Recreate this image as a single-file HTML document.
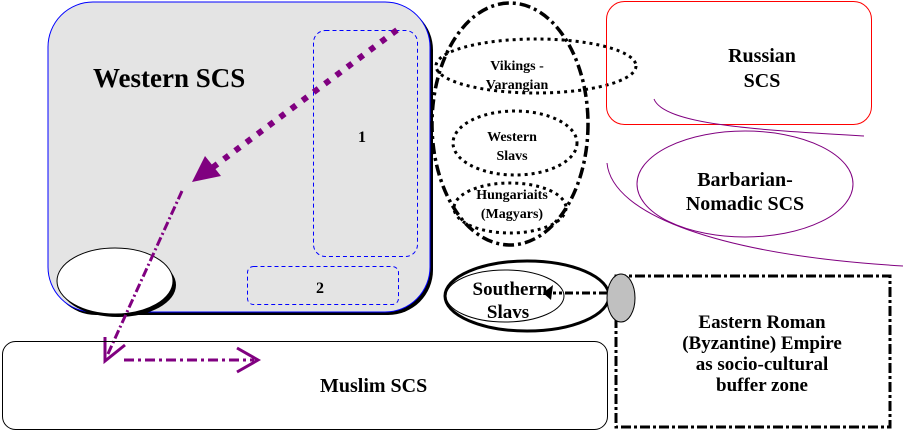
<!DOCTYPE html>
<html><head><meta charset="utf-8"><style>
html,body{margin:0;padding:0;background:#fff;width:903px;height:431px;overflow:hidden}
text{font-family:"Liberation Serif",serif;font-weight:bold;fill:#000}
</style></head><body>
<svg width="903" height="431" viewBox="0 0 903 431" xmlns="http://www.w3.org/2000/svg">
<rect x="51" y="5" width="382" height="310" rx="45" fill="#000"/>
<rect x="48" y="2" width="382" height="310" rx="45" fill="#e4e4e4" stroke="#0000ff" stroke-width="1"/>
<text x="93" y="87" font-size="27">Western SCS</text>
<rect x="313.5" y="30.5" width="104" height="226" rx="12" fill="none" stroke="#0000ff" stroke-dasharray="4,3"/>
<text x="358" y="142" font-size="16">1</text>
<rect x="247.5" y="266.5" width="151" height="38" rx="6" fill="none" stroke="#0000ff" stroke-dasharray="4,3"/>
<text x="316" y="293" font-size="16">2</text>
<ellipse cx="118" cy="285" rx="58" ry="32" fill="#000"/>
<ellipse cx="115" cy="281" rx="58" ry="33" fill="#fff" stroke="#000" stroke-width="1"/>
<line x1="397" y1="30" x2="212" y2="168" stroke="#800080" stroke-width="6" stroke-dasharray="6,8"/>
<polygon points="192,182 205,156 221,176" fill="#800080"/>
<line x1="182" y1="191" x2="107" y2="356" stroke="#800080" stroke-width="3" stroke-dasharray="9,3,2,3"/>
<polyline points="105,337 105,361 125,345" fill="none" stroke="#800080" stroke-width="3"/>
<line x1="124" y1="360" x2="254" y2="360" stroke="#800080" stroke-width="3" stroke-dasharray="10,4,3,4"/>
<polyline points="237,348 258,360 237,372" fill="none" stroke="#800080" stroke-width="3"/>
<rect x="2.5" y="341.5" width="605" height="88" rx="13" fill="none" stroke="#000"/>
<text x="320" y="392" font-size="20">Muslim SCS</text>
<ellipse cx="510" cy="124" rx="78" ry="121" fill="none" stroke="#000" stroke-width="3.5" stroke-dasharray="11,4,3,4"/>
<ellipse cx="536" cy="66" rx="100" ry="27" fill="none" stroke="#000" stroke-width="3" stroke-dasharray="3,4"/>
<text x="517" y="70" font-size="14" text-anchor="middle">Vikings -</text>
<text x="517" y="89" font-size="14" text-anchor="middle">Varangian</text>
<ellipse cx="515" cy="143" rx="62" ry="32" fill="none" stroke="#000" stroke-width="3" stroke-dasharray="3,4"/>
<text x="512" y="141" font-size="14" text-anchor="middle">Western</text>
<text x="512" y="160" font-size="14" text-anchor="middle">Slavs</text>
<ellipse cx="510" cy="208" rx="56" ry="25" fill="none" stroke="#000" stroke-width="3" stroke-dasharray="3,4"/>
<text x="512" y="199" font-size="14" text-anchor="middle">Hungariaits</text>
<text x="512" y="218" font-size="14" text-anchor="middle">(Magyars)</text>
<ellipse cx="527" cy="296" rx="82" ry="35" fill="none" stroke="#000" stroke-width="3"/>
<ellipse cx="505" cy="296" rx="59" ry="26" fill="none" stroke="#000" stroke-width="1"/>
<text x="510" y="295" font-size="19" text-anchor="middle">Southern</text>
<text x="508" y="318" font-size="19" text-anchor="middle">Slavs</text>
<line x1="607" y1="293" x2="553" y2="293" stroke="#000" stroke-width="3" stroke-dasharray="8,3,3,3"/>
<polygon points="543,293 553,285 551,300" fill="#000"/>
<rect x="616" y="276" width="274" height="151" fill="none" stroke="#000" stroke-width="3" stroke-dasharray="10,3,3,3"/>
<ellipse cx="621" cy="298" rx="14" ry="24" fill="#c0c0c0" stroke="#000" stroke-width="1"/>
<text x="762" y="328" font-size="19" text-anchor="middle">Eastern Roman</text>
<text x="762" y="349" font-size="19" text-anchor="middle">(Byzantine) Empire</text>
<text x="762" y="370" font-size="19" text-anchor="middle">as socio-cultural</text>
<text x="762" y="391" font-size="19" text-anchor="middle">buffer zone</text>
<rect x="606.5" y="1.5" width="265" height="123" rx="18" fill="none" stroke="#ff0000"/>
<text x="762" y="62" font-size="20" text-anchor="middle">Russian</text>
<text x="762" y="87" font-size="20" text-anchor="middle">SCS</text>
<path d="M654,99 C664,125 760,130 864,136" fill="none" stroke="#800080"/>
<ellipse cx="745" cy="184" rx="108" ry="53" fill="none" stroke="#800080"/>
<path d="M607,163 C612,215 720,255 903,266" fill="none" stroke="#800080"/>
<text x="745" y="186" font-size="20" text-anchor="middle">Barbarian-</text>
<text x="745" y="210" font-size="20" text-anchor="middle">Nomadic SCS</text>
</svg>
</body></html>
